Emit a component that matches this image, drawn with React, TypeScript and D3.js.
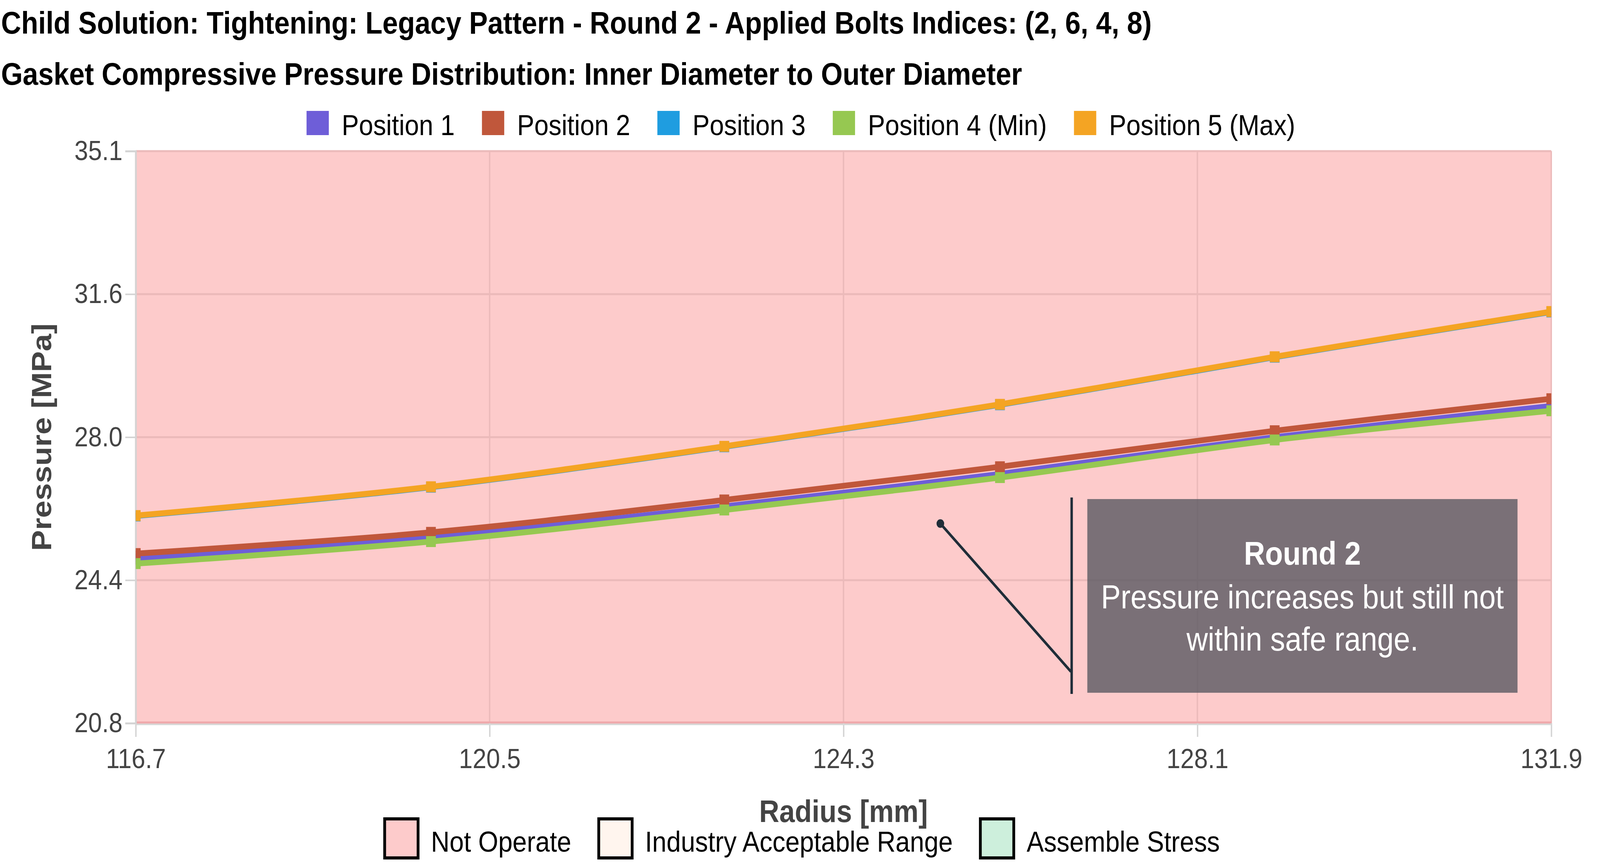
import React, { useRef, useEffect } from 'react';
import * as d3 from 'd3';

const radius = [116.7, 119.87, 123.02, 125.98, 128.93, 131.9];
const position1 = [24.9, 25.45, 26.22, 27.03, 27.95, 28.73];
const position2 = [25.04, 25.57, 26.38, 27.21, 28.11, 28.91];
const position3 = [25.98, 26.7, 27.71, 28.76, 29.95, 31.08];
const position4 = [24.79, 25.34, 26.13, 26.94, 27.88, 28.61];
const position5 = [25.99, 26.71, 27.72, 28.77, 29.96, 31.09];

const seriesNames = ['Position 1', 'Position 2', 'Position 3', 'Position 4 (Min)', 'Position 5 (Max)'];
const seriesColors = ['#6e5ed8', '#c0573b', '#1f9de0', '#96c851', '#f4a423'];
const seriesValues = [position1, position2, position3, position4, position5];

const xTicks = [116.7, 120.5, 124.3, 128.1, 131.9];
const yTickLabels = ['20.8', '24.4', '28.0', '31.6', '35.1'];
const yDomain = [20.8, 35.1];

const regionNames = ['Not Operate', 'Industry Acceptable Range', 'Assemble Stress'];
const regionColors = ['#fdcbcb', '#fff5ee', '#cdefdc'];

const title1 = 'Child Solution: Tightening: Legacy Pattern - Round 2 - Applied Bolts Indices: (2, 6, 4, 8)';
const title2 = 'Gasket Compressive Pressure Distribution: Inner Diameter to Outer Diameter';
const noteTitle = 'Round 2';
const noteLines = ['Pressure increases but still not', 'within safe range.'];
// annotation points at this data location
const noteAt = { x: 125.34, y: 25.79 };

const W = 4597;
const H = 2210;
const FONT = "'Liberation Sans', Arial, sans-serif";

const App: React.FC = () => {
  const ref = useRef<SVGSVGElement>(null);

  useEffect(() => {
    if (!ref.current) return;
    const svg = d3.select(ref.current);
    svg.selectAll('*').remove();

    const m = { left: 390, right: W - 4457, top: 387, bottom: H - 1852 };
    const pw = W - m.left - m.right;
    const ph = H - m.top - m.bottom;

    const x = d3.scaleLinear().domain([radius[0], radius[radius.length - 1]]).range([0, pw]);
    const y = d3.scaleLinear().domain(yDomain).range([ph, 0]);
    const yTicks = yTickLabels.map((_, i) => yDomain[0] + (i * (yDomain[1] - yDomain[0])) / (yTickLabels.length - 1));

    // titles
    svg.append('text').attr('x', 3).attr('y', 86).attr('font-family', FONT).attr('font-weight', 'bold')
      .attr('font-size', 80).attr('fill', '#000').text(title1);
    svg.append('text').attr('x', 3).attr('y', 217).attr('font-family', FONT).attr('font-weight', 'bold')
      .attr('font-size', 80).attr('fill', '#000').text(title2);

    const g = svg.append('g').attr('transform', `translate(${m.left},${m.top})`);

    // not operate region
    g.append('rect').attr('width', pw).attr('height', ph).attr('fill', regionColors[0]);

    // grid
    g.append('g').selectAll('line').data(yTicks).join('line')
      .attr('x1', 0).attr('x2', pw).attr('y1', d => y(d)).attr('y2', d => y(d))
      .attr('stroke', '#ebbaba').attr('stroke-width', 5);
    g.append('g').selectAll('line').data(xTicks).join('line')
      .attr('y1', 0).attr('y2', ph).attr('x1', d => x(d)).attr('x2', d => x(d))
      .attr('stroke', '#ebbaba').attr('stroke-width', 4);
    g.append('line').attr('x1', 0).attr('x2', pw).attr('y1', ph - 2).attr('y2', ph - 2)
      .attr('stroke', '#efa9ac').attr('stroke-width', 5);

    // axes
    const xAxis = g.append('g').attr('transform', `translate(0,${ph})`)
      .call(d3.axisBottom(x).tickValues(xTicks).tickSize(35).tickPadding(30).tickFormat(d3.format('.1f')));
    const yAxis = g.append('g')
      .call(d3.axisLeft(y).tickValues(yTicks).tickSize(30).tickPadding(8).tickFormat((_, i) => yTickLabels[i]));
    [xAxis, yAxis].forEach(a => {
      a.select('.domain').attr('stroke', '#d4d4d4').attr('stroke-width', 5);
      a.selectAll('.tick line').attr('stroke', '#d4d4d4').attr('stroke-width', 4);
      a.selectAll('.tick text').attr('font-family', FONT).attr('font-size', 71).attr('fill', '#444');
    });
    xAxis.select('.domain').attr('stroke', 'none');
    g.append('line').attr('x1', 0).attr('x2', pw).attr('y1', ph + 3).attr('y2', ph + 3)
      .attr('stroke', '#d8d8d8').attr('stroke-width', 4);

    // axis titles
    svg.append('text').attr('transform', `translate(147,${m.top + ph / 2}) rotate(-90)`)
      .attr('text-anchor', 'middle').attr('font-family', FONT).attr('font-weight', 'bold')
      .attr('font-size', 80).attr('fill', '#444').text('Pressure [MPa]');
    svg.append('text').attr('x', m.left + pw / 2).attr('y', 2105)
      .attr('text-anchor', 'middle').attr('font-family', FONT).attr('font-weight', 'bold')
      .attr('font-size', 80).attr('fill', '#444').text('Radius [mm]');

    // series
    const line = d3.line<number>().x((_, i) => x(radius[i])).y(d => y(d)).curve(d3.curveCatmullRom.alpha(0.5));
    const clip = svg.append('defs').append('clipPath').attr('id', 'plotclip');
    clip.append('rect').attr('width', pw).attr('height', ph);
    const series = g.append('g').attr('clip-path', 'url(#plotclip)');
    seriesValues.forEach((vals, si) => {
      const sg = series.append('g');
      sg.append('path').datum(vals).attr('d', line).attr('fill', 'none')
        .attr('stroke', seriesColors[si]).attr('stroke-width', 15);
      sg.selectAll('rect').data(vals).join('rect')
        .attr('x', (_, i) => x(radius[i]) - 14).attr('y', d => y(d) - 14)
        .attr('width', 28).attr('height', 28).attr('fill', seriesColors[si]);
    });

    // annotation
    const ax = x(noteAt.x);
    const ay = y(noteAt.y);
    const box = { x: 3124 - m.left, y: 1278 - m.top, w: 1236, h: 496 };
    g.append('rect').attr('x', box.x).attr('y', box.y).attr('width', box.w).attr('height', box.h)
      .attr('fill', 'rgba(89,89,98,0.8)');
    g.append('line').attr('x1', box.x - 45).attr('x2', box.x - 45).attr('y1', box.y - 4).attr('y2', box.y + box.h + 3)
      .attr('stroke', '#1f2d38').attr('stroke-width', 7);
    g.append('line').attr('x1', ax).attr('y1', ay).attr('x2', box.x - 47).attr('y2', box.y + box.h - 54)
      .attr('stroke', '#1f2d38').attr('stroke-width', 7);
    g.append('circle').attr('cx', ax).attr('cy', ay).attr('r', 11).attr('fill', '#1f2d38');
    const cx = box.x + box.w / 2;
    g.append('text').attr('x', cx).attr('y', 1446 - m.top).attr('text-anchor', 'middle')
      .attr('font-family', FONT).attr('font-weight', 'bold').attr('font-size', 84).attr('fill', '#fff').text(noteTitle);
    noteLines.forEach((t, i) => {
      g.append('text').attr('x', cx).attr('y', 1558 - m.top + i * 108).attr('text-anchor', 'middle')
        .attr('font-family', FONT).attr('font-size', 85).attr('fill', '#fff').text(t);
    });

    // top legend
    const legendTop = svg.append('g');
    let cursor = 0;
    seriesNames.forEach((name, i) => {
      legendTop.append('rect').attr('x', cursor).attr('y', 284).attr('width', 64).attr('height', 62)
        .attr('fill', seriesColors[i]);
      const t = legendTop.append('text').attr('x', cursor + 101).attr('y', 346)
        .attr('font-family', FONT).attr('font-size', 74).attr('fill', '#000').text(name);
      cursor += 101 + (t.node() as SVGTextElement).getComputedTextLength() + 78;
    });
    legendTop.attr('transform', `translate(${2301 - (cursor - 78) / 2},0)`);

    // bottom legend
    const legendBottom = svg.append('g');
    cursor = 0;
    regionNames.forEach((name, i) => {
      legendBottom.append('rect').attr('x', cursor + 4).attr('y', 2097).attr('width', 96).attr('height', 100)
        .attr('fill', regionColors[i]).attr('stroke', '#000').attr('stroke-width', 8);
      const t = legendBottom.append('text').attr('x', cursor + 137).attr('y', 2181)
        .attr('font-family', FONT).attr('font-size', 74).attr('fill', '#000').text(name);
      cursor += 137 + (t.node() as SVGTextElement).getComputedTextLength() + 75;
    });
    legendBottom.attr('transform', `translate(${2303 - (cursor - 75) / 2},0)`);
  }, []);

  return (
    <svg ref={ref} viewBox={`0 0 ${W} ${H}`} preserveAspectRatio="none"
      style={{ position: 'fixed', left: 0, top: 0, width: '100vw', height: '100vh', background: '#fff' }} />
  );
};

export default App;
